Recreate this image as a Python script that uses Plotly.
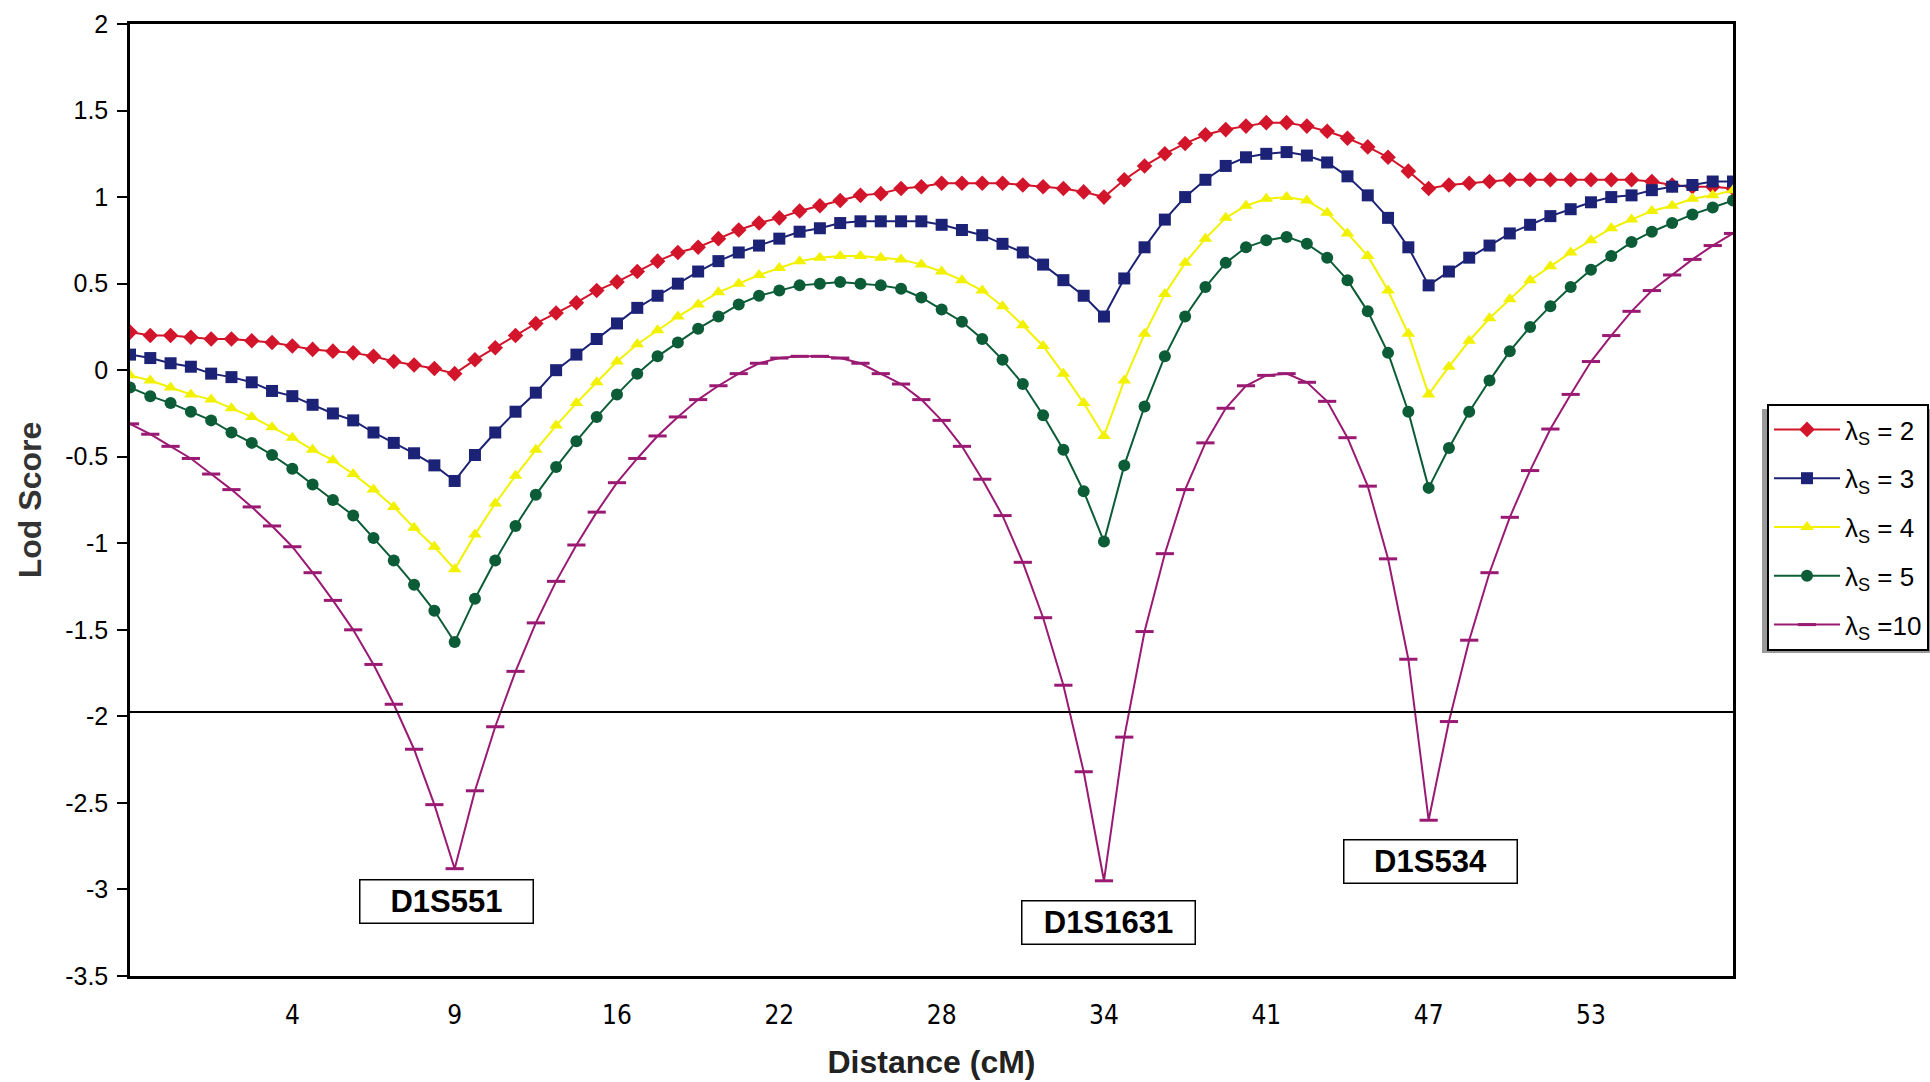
import plotly.graph_objects as go

# ---------------- data ----------------
point_index = list(range(80))
tick_positions = [8, 16, 24, 32, 40, 48, 56, 64, 72]
distance_labels = ["4", "9", "16", "22", "28", "34", "41", "47", "53"]
y_tick_values = [2, 1.5, 1, 0.5, 0, -0.5, -1, -1.5, -2, -2.5, -3, -3.5]
y_tick_labels = ["2", "1.5", "1", "0.5", "0", "-0.5", "-1", "-1.5", "-2", "-2.5", "-3", "-3.5"]

lod_ls2 = [0.22, 0.20, 0.20, 0.19, 0.18, 0.18, 0.17, 0.16, 0.14, 0.12, 0.11, 0.10, 0.08, 0.05, 0.03, 0.01, -0.02, 0.06, 0.13, 0.20,
           0.27, 0.33, 0.39, 0.46, 0.51, 0.57, 0.63, 0.68, 0.71, 0.76, 0.81, 0.85, 0.88, 0.92, 0.95, 0.98, 1.01, 1.02, 1.05, 1.06,
           1.08, 1.08, 1.08, 1.08, 1.07, 1.06, 1.05, 1.03, 1.00, 1.10, 1.18, 1.25, 1.31, 1.36, 1.39, 1.41, 1.43, 1.43, 1.41, 1.38,
           1.34, 1.29, 1.23, 1.15, 1.05, 1.07, 1.08, 1.09, 1.10, 1.10, 1.10, 1.10, 1.10, 1.10, 1.10, 1.09, 1.07, 1.06, 1.06, 1.05]
lod_ls3 = [0.09, 0.07, 0.04, 0.02, -0.02, -0.04, -0.07, -0.12, -0.15, -0.20, -0.25, -0.29, -0.36, -0.42, -0.48, -0.55, -0.64, -0.49, -0.36, -0.24,
           -0.13, 0.00, 0.09, 0.18, 0.27, 0.36, 0.43, 0.50, 0.57, 0.63, 0.68, 0.72, 0.76, 0.80, 0.82, 0.85, 0.86, 0.86, 0.86, 0.86,
           0.84, 0.81, 0.78, 0.73, 0.68, 0.61, 0.52, 0.43, 0.31, 0.53, 0.71, 0.87, 1.00, 1.10, 1.18, 1.23, 1.25, 1.26, 1.24, 1.20,
           1.12, 1.01, 0.88, 0.71, 0.49, 0.57, 0.65, 0.72, 0.79, 0.84, 0.89, 0.93, 0.97, 1.00, 1.01, 1.04, 1.06, 1.07, 1.09, 1.09]
lod_ls4 = [-0.03, -0.06, -0.10, -0.14, -0.17, -0.22, -0.27, -0.33, -0.39, -0.46, -0.52, -0.60, -0.69, -0.79, -0.91, -1.02, -1.15, -0.95, -0.77, -0.61,
           -0.46, -0.32, -0.19, -0.07, 0.05, 0.15, 0.23, 0.31, 0.38, 0.45, 0.50, 0.55, 0.59, 0.63, 0.65, 0.66, 0.66, 0.65, 0.64, 0.61,
           0.57, 0.52, 0.46, 0.37, 0.26, 0.14, -0.02, -0.19, -0.38, -0.06, 0.21, 0.44, 0.62, 0.76, 0.88, 0.95, 0.99, 1.00, 0.98, 0.91,
           0.79, 0.66, 0.46, 0.21, -0.14, 0.02, 0.17, 0.30, 0.41, 0.52, 0.60, 0.68, 0.75, 0.82, 0.87, 0.92, 0.95, 0.99, 1.01, 1.04]
lod_ls5 = [-0.10, -0.15, -0.19, -0.24, -0.29, -0.36, -0.42, -0.49, -0.57, -0.66, -0.75, -0.84, -0.97, -1.10, -1.24, -1.39, -1.57, -1.32, -1.10, -0.90,
           -0.72, -0.56, -0.41, -0.27, -0.14, -0.02, 0.08, 0.16, 0.24, 0.31, 0.38, 0.43, 0.46, 0.49, 0.50, 0.51, 0.50, 0.49, 0.47, 0.42,
           0.35, 0.28, 0.18, 0.06, -0.08, -0.26, -0.46, -0.70, -0.99, -0.55, -0.21, 0.08, 0.31, 0.48, 0.62, 0.71, 0.75, 0.77, 0.73, 0.65,
           0.52, 0.34, 0.10, -0.24, -0.68, -0.45, -0.24, -0.06, 0.11, 0.25, 0.37, 0.48, 0.58, 0.66, 0.74, 0.80, 0.85, 0.90, 0.94, 0.98]
lod_ls10 = [-0.31, -0.37, -0.44, -0.51, -0.60, -0.69, -0.79, -0.90, -1.02, -1.17, -1.33, -1.50, -1.70, -1.93, -2.19, -2.51, -2.88, -2.43, -2.06, -1.74,
            -1.46, -1.22, -1.01, -0.82, -0.65, -0.51, -0.38, -0.27, -0.17, -0.09, -0.02, 0.04, 0.07, 0.08, 0.08, 0.07, 0.04, -0.02, -0.08, -0.17,
            -0.29, -0.44, -0.63, -0.84, -1.11, -1.43, -1.82, -2.32, -2.95, -2.12, -1.51, -1.06, -0.69, -0.42, -0.22, -0.09, -0.03, -0.02, -0.07, -0.18,
            -0.39, -0.67, -1.09, -1.67, -2.60, -2.03, -1.56, -1.17, -0.85, -0.58, -0.34, -0.14, 0.05, 0.20, 0.34, 0.46, 0.55, 0.64, 0.72, 0.79]

series_names = ["λ<sub>S</sub> = 2", "λ<sub>S</sub> = 3", "λ<sub>S</sub> = 4", "λ<sub>S</sub> = 5", "λ<sub>S</sub> =10"]
threshold = -1.975
marker_names = ["D1S551", "D1S1631", "D1S534"]
marker_pos = [15.6, 48.2, 64.1]
marker_lod = [-3.07, -3.19, -2.84]

# ---------------- styles ----------------
series = [lod_ls2, lod_ls3, lod_ls4, lod_ls5, lod_ls10]
colors = ["#D3152B", "#1C2275", "#F2F200", "#0B5C37", "#9A1A73"]
symbols = ["diamond", "square", "triangle-up", "circle", "line-ew"]
sizes = [12, 12, 12, 12, 13]

FONT = "Liberation Sans, Arial, sans-serif"
NARROW = "Liberation Sans Narrow, DejaVu Sans Condensed, Arial Narrow, sans-serif"

fig = go.Figure()
for i, (vals, name) in enumerate(zip(series, series_names)):
    mk = dict(symbol=symbols[i], size=sizes[i], color=colors[i])
    if symbols[i] == "line-ew":
        mk["line"] = dict(color=colors[i], width=3)
    else:
        mk["line"] = dict(width=0)
    fig.add_trace(go.Scatter(
        x=point_index, y=vals, name=name, mode="lines+markers",
        line=dict(color=colors[i], width=2), marker=mk,
        legendgroup=f"g{i}",
    ))

W, H = 1930, 1082
L, R, T, B = 130, 1930 - 1733, 24, 1082 - 976
pw, ph = W - L - R, H - T - B

fig.add_shape(type="line", xref="paper", yref="y", x0=0, x1=1, y0=threshold, y1=threshold,
              line=dict(color="black", width=2))

# legend shadow
fig.add_shape(type="rect", xref="paper", yref="paper",
              x0=(1762 - L) / pw, x1=(1935 - L) / pw,
              y0=(H - B - 653) / ph, y1=(H - B - 409) / ph,
              fillcolor="#9a9a9a", line=dict(width=0), layer="above")

for nm, xp, yp in zip(marker_names, marker_pos, marker_lod):
    fig.add_annotation(x=xp, y=yp, xref="x", yref="y", text=f"<b>{nm}</b>", showarrow=False,
                       font=dict(family=FONT, size=31, color="black"),
                       bgcolor="white", bordercolor="black", borderwidth=1.5,
                       width=168, height=38, borderpad=2)

fig.update_layout(
    width=W, height=H,
    margin=dict(l=L, r=R, t=T, b=B, autoexpand=False),
    paper_bgcolor="white", plot_bgcolor="white",
    font=dict(family=FONT, color="black"),
    showlegend=True,
    legend=dict(
        x=(1767 - L) / pw, xanchor="left",
        y=(H - B - 404) / ph, yanchor="top",
        bgcolor="white", bordercolor="black", borderwidth=2,
        font=dict(family=FONT, size=26, color="black"),
        tracegroupgap=12, itemwidth=66,
    ),
    xaxis=dict(
        range=[0, 79], tickmode="array", tickvals=tick_positions, ticktext=distance_labels,
        ticks="", showgrid=False, zeroline=False,
        showline=True, linecolor="black", linewidth=2.5, mirror=True,
        tickfont=dict(family=NARROW, size=26, color="black"),
        ticklabelstandoff=14,
        title=dict(text="<b>Distance (cM)</b>", font=dict(family=FONT, size=32, color="#222"), standoff=22),
    ),
    yaxis=dict(
        range=[-3.5, 2], tickmode="array", tickvals=y_tick_values, ticktext=y_tick_labels,
        ticks="outside", ticklen=10, tickwidth=2, tickcolor="black",
        showgrid=False, zeroline=False,
        showline=True, linecolor="black", linewidth=2.5, mirror=True,
        tickfont=dict(family=FONT, size=25, color="black"),
        ticklabelstandoff=4,
        title=dict(text="<b>Lod Score</b>", font=dict(family=FONT, size=32, color="#333"), standoff=14),
    ),
)

fig.write_html("out.html")
